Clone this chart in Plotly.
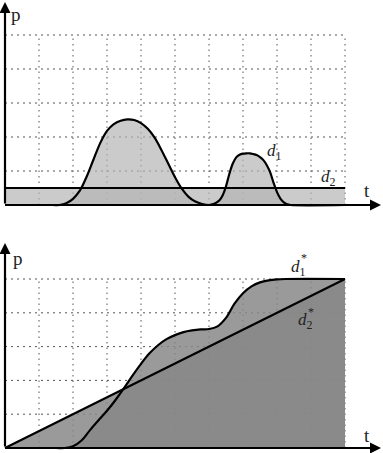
import plotly.graph_objects as go

W, H = 383, 453

# ---------------- data ----------------
grid_x = [1, 2, 3, 4, 5, 6, 7, 8, 9, 10]
grid_y = [1, 2, 3, 4, 5]

d1_t = [0, 1.4, 1.6, 1.8, 2.0, 2.2, 2.4, 2.6, 2.8, 3.0, 3.2, 3.4, 3.6, 3.8, 4.0, 4.2,
        4.4, 4.6, 4.8, 5.0, 5.2, 5.4, 5.6, 5.8, 6.0, 6.1, 6.2, 6.3, 6.4, 6.5, 6.6,
        6.7, 6.8, 6.9, 7.0, 7.1, 7.2, 7.3, 7.4, 7.5, 7.6, 7.7, 7.8, 7.9, 8.0, 8.1,
        8.2, 8.3, 8.4, 10]
d1_p = [0, 0, 0.0, 0.05, 0.18, 0.42, 0.83, 1.33, 1.82, 2.18, 2.38, 2.48, 2.52, 2.50,
        2.41, 2.24, 1.98, 1.62, 1.22, 0.82, 0.48, 0.24, 0.1, 0.03, 0.0, 0.02, 0.06,
        0.13, 0.28, 0.55, 0.92, 1.22, 1.4, 1.48, 1.51, 1.52, 1.52, 1.5, 1.47, 1.41,
        1.32, 1.17, 0.96, 0.65, 0.38, 0.19, 0.08, 0.02, 0.0, 0]

d2_t = [0, 10]
d2_p = [0.5, 0.5]

d1s_t = [0, 1.5, 1.75, 2.0, 2.25, 2.5, 2.75, 3.0, 3.25, 3.5, 3.75, 4.0, 4.25, 4.5,
         4.75, 5.0, 5.25, 5.5, 5.75, 6.0, 6.25, 6.5, 6.75, 7.0, 7.25, 7.5, 7.75,
         8.0, 8.25, 10]
d1s_p = [0, 0, 0.0, 0.05, 0.22, 0.53, 0.82, 1.1, 1.42, 1.77, 2.14, 2.49, 2.8, 3.04,
         3.22, 3.34, 3.43, 3.48, 3.51, 3.52, 3.6, 3.85, 4.27, 4.58, 4.78, 4.9, 4.96,
         4.99, 5.0, 5.0]

d2s_t = [0, 10]
d2s_p = [0, 5]

# ---------------- layout geometry (pixels) ----------------
X0 = 5.0          # px of t=0
SX = 34.0         # px per t unit
XMIN, XMAX = -0.12, 11.05

top_y0, top_s = 205.0, 34.0
bot_y0, bot_s = 448.0, 33.8
YMIN = -0.1
TOP_YMAX = 5.95
BOT_YMAX = 6.1

def xdom():
    l = X0 + XMIN * SX
    r = X0 + XMAX * SX
    return [l / W, r / W]

def ydom(y0, s, ymax):
    bottom = y0 - YMIN * s
    top = y0 - ymax * s
    return [1 - bottom / H, 1 - top / H]

top_fill = "rgba(180,180,180,0.69)"
bot_fill = "rgba(135,135,135,0.84)"
LW = 2.2

fig = go.Figure()

series = [
    (d2_t, d2_p, "x", "y", top_fill, "linear"),
    (d1_t, d1_p, "x", "y", top_fill, "spline"),
    (d2s_t, d2s_p, "x2", "y2", bot_fill, "linear"),
    (d1s_t, d1s_p, "x2", "y2", bot_fill, "spline"),
]
# fills first
for xs, ys, xa, ya, fc, shp in series:
    fig.add_trace(go.Scatter(x=xs, y=ys, mode="lines", fill="tozeroy", fillcolor=fc,
                             line=dict(width=0, shape=shp, smoothing=1.0),
                             xaxis=xa, yaxis=ya, hoverinfo="skip"))
# outlines on top
for xs, ys, xa, ya, fc, shp in series:
    fig.add_trace(go.Scatter(x=xs, y=ys, mode="lines",
                             line=dict(color="black", width=LW, shape=shp, smoothing=1.0),
                             xaxis=xa, yaxis=ya))

shapes = []
hstyle = dict(color="#555", width=1, dash="2px,4px")
vstyle = dict(color="#555", width=1, dash="1.5px,4px")
for xr, yr in (("x", "y"), ("x2", "y2")):
    for gy in grid_y:
        shapes.append(dict(type="line", xref=xr, yref=yr, x0=0, x1=grid_x[-1], y0=gy, y1=gy,
                           line=hstyle, layer="below"))
    for gx in grid_x:
        shapes.append(dict(type="line", xref=xr, yref=yr, x0=gx, x1=gx, y0=0, y1=grid_y[-1],
                           line=vstyle, layer="below"))

ann = []
# axis arrows
for xr, yr, ymax in (("x", "y", (top_y0 - 2) / top_s), ("x2", "y2", (bot_y0 - 243) / bot_s)):
    xend = (381 - X0) / SX
    ann.append(dict(x=xend, y=0, ax=0, ay=0, xref=xr, yref=yr, axref=xr, ayref=yr,
                    text="", showarrow=True, arrowhead=2, arrowsize=1, arrowwidth=LW,
                    arrowcolor="black"))
    ann.append(dict(x=0, y=ymax, ax=0, ay=0, xref=xr, yref=yr, axref=xr, ayref=yr,
                    text="", showarrow=True, arrowhead=2, arrowsize=1, arrowwidth=LW,
                    arrowcolor="black"))

serif = "Liberation Serif"
def label(px, py, text, size=17):
    ann.append(dict(x=px / W, y=1 - py / H, xref="paper", yref="paper", text=text,
                    showarrow=False, font=dict(family=serif, size=size, color="#222"),
                    xanchor="center", yanchor="middle"))

label(16, 14, "p", 19)
label(367, 191, "t", 19)
label(18, 258, "p", 19)
label(367, 435, "t", 19)
label(274, 152, "<i>d</i><sub>1</sub>")
label(328, 178, "<i>d</i><sub>2</sub>")
label(298, 268, "<i>d</i><sub>1</sub>")
label(303.5, 258, "*", size=12)
label(305, 321, "<i>d</i><sub>2</sub>")
label(310.5, 312, "*", size=12)

ax_common = dict(showgrid=False, zeroline=False, showticklabels=False, ticks="",
                 showline=False, fixedrange=True)
fig.update_layout(
    width=W, height=H, margin=dict(l=0, r=0, t=0, b=0),
    paper_bgcolor="white", plot_bgcolor="rgba(0,0,0,0)", showlegend=False,
    xaxis=dict(domain=xdom(), range=[XMIN, XMAX], anchor="y", **ax_common),
    yaxis=dict(domain=ydom(top_y0, top_s, TOP_YMAX), range=[YMIN, TOP_YMAX], anchor="x", **ax_common),
    xaxis2=dict(domain=xdom(), range=[XMIN, XMAX], anchor="y2", **ax_common),
    yaxis2=dict(domain=ydom(bot_y0, bot_s, BOT_YMAX), range=[YMIN, BOT_YMAX], anchor="x2", **ax_common),
    shapes=shapes, annotations=ann,
)

fig.write_html("out.html")
